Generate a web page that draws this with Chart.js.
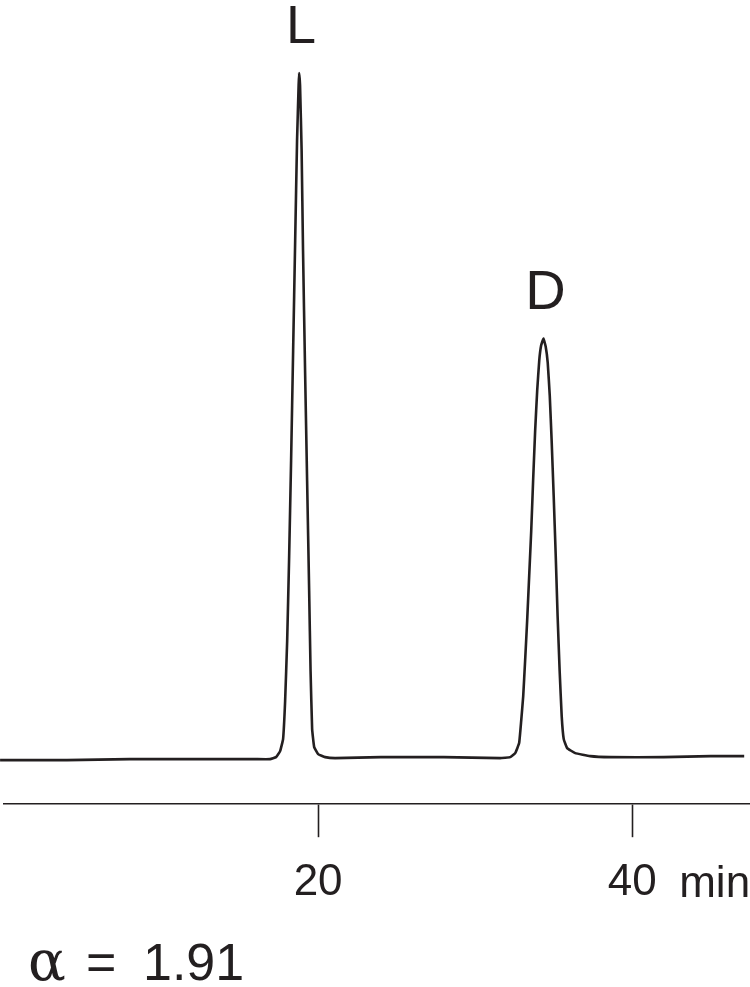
<!DOCTYPE html>
<html>
<head>
<meta charset="utf-8">
<script src="https://cdn.jsdelivr.net/npm/chart.js@4"></script>
<style>
  html, body { margin: 0; padding: 0; background: #fff; }
  #wrap { width: 750px; height: 987px; }
</style>
</head>
<body>
<div id="wrap"><canvas id="chroma" width="750" height="987"></canvas></div>
<script>
// Chromatogram trace (time in min, detector signal in arbitrary units)
const timeMin = [-0.25, 4, 8, 12, 16,
    16.94, 17.32, 17.58, 17.77, 17.90, 18.03, 18.15, 18.28, 18.41, 18.54, 18.66, 18.76, 18.79,
    18.85, 18.95, 19.04, 19.17, 19.30, 19.43, 19.52, 19.62, 19.75, 20.00, 20.45, 21.08,
    24, 28,
    31.59, 32.23, 32.55, 32.80, 32.93, 33.06, 33.18, 33.31, 33.44, 33.57, 33.69, 33.82, 33.95, 34.08, 34.20, 34.35,
    34.49, 34.62, 34.75, 34.87, 35.00, 35.13, 35.25, 35.38, 35.51, 35.64, 35.86, 36.37, 37.32, 38.60,
    42, 45, 47.13];
const signal = [44, 44, 45, 45, 45,
    45, 47, 53, 65, 103, 163, 243, 343, 453, 563, 663, 718, 730,
    718, 653, 553, 433, 323, 213, 133, 75, 57, 50, 47, 46,
    47, 47,
    46, 47, 51, 61, 83, 108, 143, 183, 228, 273, 323, 373, 413, 443, 458, 465,
    457, 441, 408, 363, 308, 248, 188, 133, 88, 65, 56, 51, 48, 47,
    47, 48, 48];

const xTicks = [20, 40];
const xUnit = 'min';
const peakNames = ['L', 'D'];
const peakTimes = [18.79, 34.35];
const peakHeights = [730, 465];
const alphaValue = '1.91';

const ink = '#231f20';

// Draws peak names, the unit after the last tick and the selectivity line
const annotations = {
    id: 'annotations',
    afterDraw(chart) {
        const ctx = chart.ctx;
        const xs = chart.scales.x;
        const ys = chart.scales.y;
        ctx.save();
        ctx.fillStyle = ink;
        ctx.textAlign = 'center';
        ctx.textBaseline = 'alphabetic';
        const sizes = [54, 56];
        peakNames.forEach((name, i) => {
            ctx.font = sizes[i] + 'px "Liberation Sans", Arial, sans-serif';
            ctx.fillText(name, xs.getPixelForValue(peakTimes[i]) + 2, ys.getPixelForValue(peakHeights[i]) - 30);
        });

        // unit label next to the last tick
        ctx.font = '44px "Liberation Sans", Arial, sans-serif';
        ctx.textAlign = 'left';
        ctx.fillText(xUnit, xs.getPixelForValue(xTicks[xTicks.length - 1]) + 47, 897);

        // alpha = 1.91
        ctx.font = '56px "DejaVu Serif", "Liberation Serif", serif';
        ctx.fillText('\u03b1', 28, 980);
        ctx.font = '52px "Liberation Sans", Arial, sans-serif';
        ctx.fillText('=', 86, 980);
        ctx.fillText(alphaValue, 143, 980);
        ctx.restore();
    }
};

const ctx = document.getElementById('chroma').getContext('2d');
new Chart(ctx, {
    type: 'line',
    data: {
        datasets: [{
            data: timeMin.map((t, i) => ({ x: t, y: signal[i] })),
            borderColor: ink,
            borderWidth: 2.6,
            pointRadius: 0,
            fill: false,
            tension: 0.1,
            clip: false,
        }]
    },
    options: {
        responsive: false,
        animation: false,
        devicePixelRatio: 1,
        layout: { padding: { left: 4, right: 0, top: 0, bottom: 59 } },
        plugins: {
            legend: { display: false },
            tooltip: { enabled: false },
        },
        scales: {
            x: {
                type: 'linear',
                min: 0,
                max: 47.5,
                afterBuildTicks: (scale) => {
                    scale.ticks = xTicks.map(v => ({ value: v }));
                },
                border: { display: true, color: ink, width: 1.6 },
                grid: {
                    display: true,
                    drawOnChartArea: false,
                    drawTicks: true,
                    tickLength: 33,
                    tickWidth: 1.6,
                    tickColor: ink,
                },
                ticks: {
                    color: ink,
                    padding: 19,
                    maxRotation: 0,
                    autoSkip: false,
                    font: { family: '"Liberation Sans", Arial, sans-serif', size: 44 },
                    callback: (v) => String(v),
                },
            },
            y: {
                display: false,
                min: 0,
                max: 803,
            }
        }
    },
    plugins: [annotations]
});
</script>
</body>
</html>
